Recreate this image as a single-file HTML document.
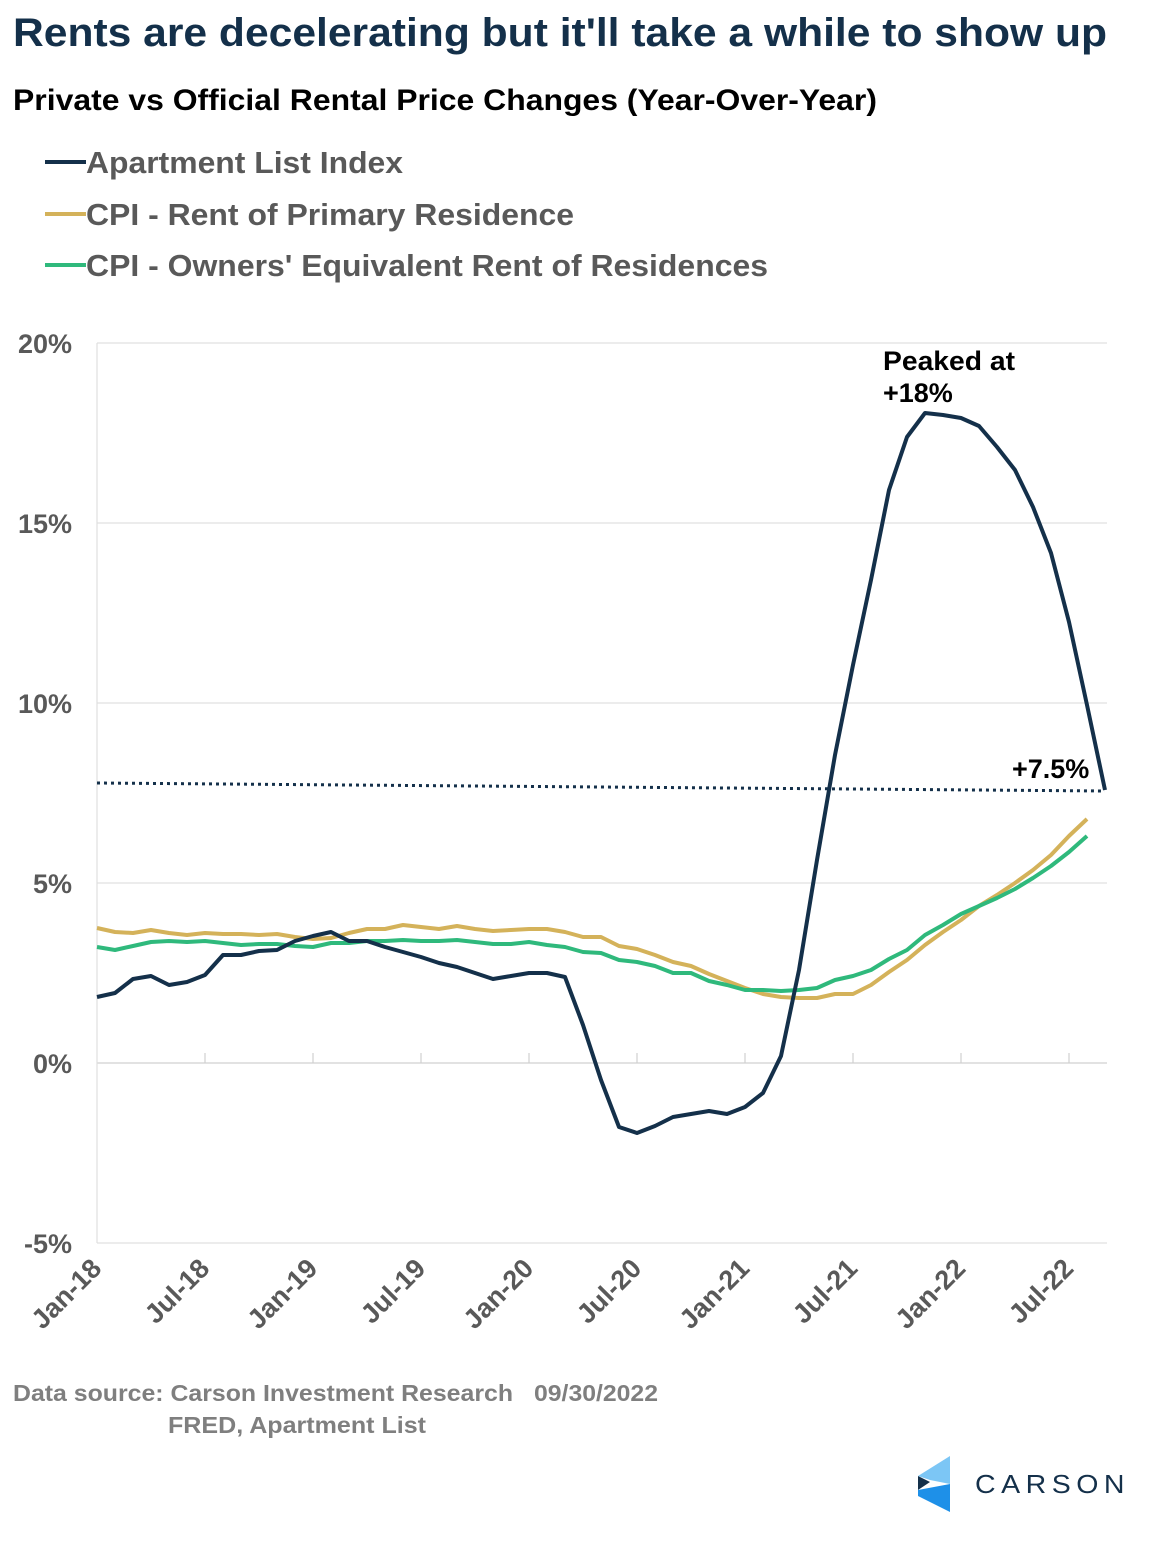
<!DOCTYPE html>
<html><head><meta charset="utf-8"><style>
body{margin:0;background:#fff;width:1155px;height:1540px;overflow:hidden;font-family:"Liberation Sans",Arial,sans-serif}
</style></head><body>
<svg width="1155" height="1540" xmlns="http://www.w3.org/2000/svg" font-family="Liberation Sans, Arial, sans-serif">
<text x="13" y="46" font-size="40" font-weight="bold" fill="#14304a" textLength="1094" lengthAdjust="spacingAndGlyphs">Rents are decelerating but it'll take a while to show up</text>
<text x="13" y="110" font-size="30" font-weight="bold" fill="#000" textLength="864" lengthAdjust="spacingAndGlyphs">Private vs Official Rental Price Changes (Year-Over-Year)</text>
<g font-size="31" font-weight="bold" fill="#595959">
<line x1="45" y1="162" x2="86" y2="162" stroke="#14304a" stroke-width="4"/><text x="86" y="173" textLength="317" lengthAdjust="spacingAndGlyphs">Apartment List Index</text>
<line x1="45" y1="214" x2="86" y2="214" stroke="#d4b25a" stroke-width="4"/><text x="86" y="225" textLength="488" lengthAdjust="spacingAndGlyphs">CPI - Rent of Primary Residence</text>
<line x1="45" y1="265" x2="86" y2="265" stroke="#2fb97c" stroke-width="4"/><text x="86" y="276" textLength="682" lengthAdjust="spacingAndGlyphs">CPI - Owners' Equivalent Rent of Residences</text>
</g>
<g stroke="#e0e0e0" stroke-width="1.2">
<line x1="97" y1="343" x2="1107" y2="343"/><line x1="97" y1="523" x2="1107" y2="523"/><line x1="97" y1="703" x2="1107" y2="703"/><line x1="97" y1="883" x2="1107" y2="883"/>
<line x1="97" y1="1063" x2="1107" y2="1063" stroke="#d0d0d0"/>
<line x1="97" y1="1243" x2="1107" y2="1243"/>
<line x1="97" y1="343" x2="97" y2="1243"/>
</g>
<g stroke="#d0d0d0" stroke-width="1.2">
<line x1="205" y1="1053" x2="205" y2="1063"/><line x1="313" y1="1053" x2="313" y2="1063"/><line x1="421" y1="1053" x2="421" y2="1063"/><line x1="529" y1="1053" x2="529" y2="1063"/><line x1="637" y1="1053" x2="637" y2="1063"/><line x1="745" y1="1053" x2="745" y2="1063"/><line x1="853" y1="1053" x2="853" y2="1063"/><line x1="961" y1="1053" x2="961" y2="1063"/><line x1="1069" y1="1053" x2="1069" y2="1063"/>
</g>
<g font-size="27" font-weight="bold" fill="#595959" text-anchor="end">
<text x="72" y="353">20%</text><text x="72" y="533">15%</text><text x="72" y="713">10%</text><text x="72" y="893">5%</text><text x="72" y="1073">0%</text><text x="72" y="1253">-5%</text>
</g>
<g font-size="27" font-weight="bold" fill="#595959" text-anchor="end">
<text transform="translate(103,1270) rotate(-45)">Jan-18</text>
<text transform="translate(211,1270) rotate(-45)">Jul-18</text>
<text transform="translate(319,1270) rotate(-45)">Jan-19</text>
<text transform="translate(427,1270) rotate(-45)">Jul-19</text>
<text transform="translate(535,1270) rotate(-45)">Jan-20</text>
<text transform="translate(643,1270) rotate(-45)">Jul-20</text>
<text transform="translate(751,1270) rotate(-45)">Jan-21</text>
<text transform="translate(859,1270) rotate(-45)">Jul-21</text>
<text transform="translate(967,1270) rotate(-45)">Jan-22</text>
<text transform="translate(1075,1270) rotate(-45)">Jul-22</text>
</g>
<line x1="97" y1="783" x2="1105" y2="791" stroke="#14304a" stroke-width="3" stroke-dasharray="3,4"/>
<polyline fill="none" stroke="#d4b25a" stroke-width="4" stroke-linejoin="round" points="97,928 115,932 133,933 151,930 169,933 187,935 205,933 223,934 241,934 259,935 277,934 295,937 313,939 331,938 349,933 367,929 385,929 403,925 421,927 439,929 457,926 475,929 493,931 511,930 529,929 547,929 565,932 583,937 601,937 619,946 637,949 655,955 673,962 691,966 709,974 727,981 745,988 763,994 781,997 799,998 817,998 835,994 853,994 871,985 889,972 907,960 925,945 943,932 961,920 979,906 997,895 1015,883 1033,870 1051,855 1069,836 1087,819"/>
<polyline fill="none" stroke="#2fb97c" stroke-width="4" stroke-linejoin="round" points="97,947 115,950 133,946 151,942 169,941 187,942 205,941 223,943 241,945 259,944 277,944 295,946 313,947 331,943 349,943 367,941 385,941 403,940 421,941 439,941 457,940 475,942 493,944 511,944 529,942 547,945 565,947 583,952 601,953 619,960 637,962 655,966 673,973 691,973 709,981 727,985 745,990 763,990 781,991 799,990 817,988 835,980 853,976 871,970 889,959 907,950 925,935 943,925 961,914 979,906 997,898 1015,889 1033,878 1051,866 1069,852 1087,836"/>
<polyline fill="none" stroke="#14304a" stroke-width="4" stroke-linejoin="round" points="97,997 115,993 133,979 151,976 169,985 187,982 205,975 223,955 241,955 259,951 277,950 295,941 313,936 331,932 349,941 367,941 385,947 403,952 421,957 439,963 457,967 475,973 493,979 511,976 529,973 547,973 565,977 583,1025 601,1080 619,1127 637,1133 655,1126 673,1117 691,1114 709,1111 727,1114 745,1107 763,1093 781,1056 799,970 817,860 835,755 853,665 871,580 889,490 907,437 925,413 943,415 961,418 979,426 997,447 1015,470 1033,507 1051,553 1069,622 1087,705 1105,790"/>
<g font-size="27" font-weight="bold" fill="#000">
<text x="883" y="370" textLength="132" lengthAdjust="spacingAndGlyphs">Peaked at</text><text x="883" y="402">+18%</text>
<text x="1012" y="778">+7.5%</text>
</g>
<g font-size="23" font-weight="bold" fill="#7f7f7f">
<text x="13" y="1401" textLength="500" lengthAdjust="spacingAndGlyphs">Data source: Carson Investment Research</text>
<text x="534" y="1401" textLength="124" lengthAdjust="spacingAndGlyphs">09/30/2022</text>
<text x="168" y="1433" textLength="258" lengthAdjust="spacingAndGlyphs">FRED, Apartment List</text>
</g>
<polygon points="918,1476 950,1456 950,1484 930,1480" fill="#7cc6f5"/>
<polygon points="918,1476 930,1482 918,1490" fill="#14304a"/>
<polygon points="918,1490 950,1484 950,1512 918,1496" fill="#1e90e8"/>
<text x="975" y="1493" font-size="26" fill="#14304a" letter-spacing="5" textLength="155" lengthAdjust="spacingAndGlyphs">CARSON</text>
</svg>
</body></html>
